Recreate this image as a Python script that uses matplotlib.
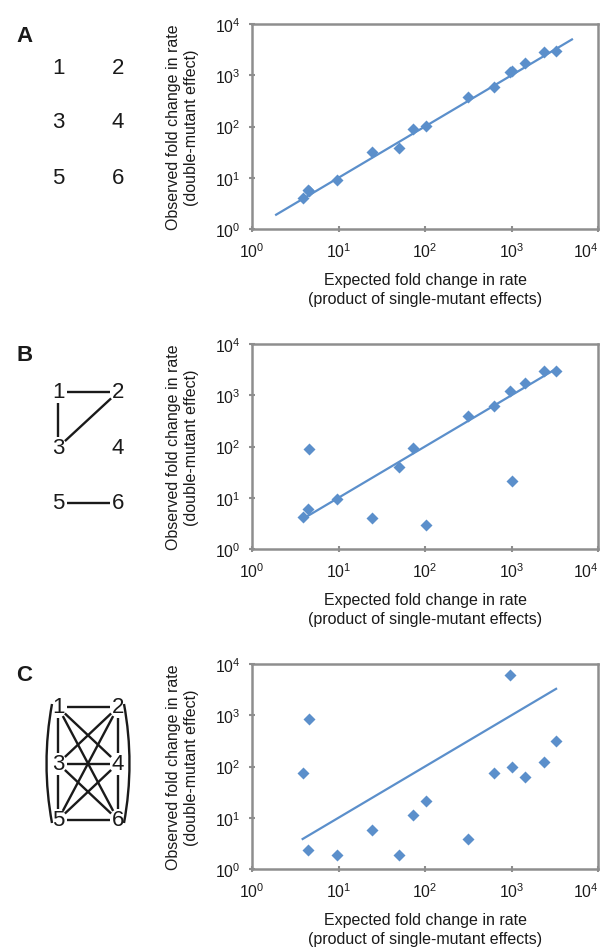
import matplotlib
matplotlib.use("Agg")
import matplotlib.pyplot as plt
from matplotlib.path import Path
from matplotlib.patches import PathPatch
import numpy as np

plt.rcParams['font.family'] = ['Liberation Sans', 'DejaVu Sans']

# data (x = expected, y = observed fold change)
expected = [3.85, 4.4, 4.5, 9.6, 24.4, 50.7, 73, 104, 313, 623, 957, 1000, 1430, 2376, 3277]
observed_A = [4.0, 5.8, 5.5, 9.0, 32, 38, 91, 103, 384, 601, 1160, 1200, 1713, 2850, 2935]
observed_B = [4.3, 6.0, 89, 9.3, 4.0, 39, 94, 3.0, 400, 620, 1200, 21, 1770, 2930, 3000]
observed_C = [76, 2.3, 861, 1.87, 5.75, 1.87, 11.4, 21.4, 3.84, 74, 6000, 97, 63, 120, 321]

# trend lines (y = x), start/end of each
fit_A = [1.9, 5000]
fit_B = [3.85, 3277]
fit_C = [3.85, 3277]

panel_labels = ['A', 'B', 'C']
nodes = ['1', '2', '3', '4', '5', '6']
edges_A = []
edges_B = [(1, 2), (1, 3), (2, 3), (5, 6)]
edges_C = [(1, 2), (1, 3), (1, 4), (1, 6), (2, 3), (2, 4), (2, 5),
           (3, 4), (3, 5), (3, 6), (4, 5), (4, 6), (5, 6)]
arcs_C = [(1, 5), (2, 6)]

xlab = 'Expected fold change in rate\n(product of single-mutant effects)'
ylab = 'Observed fold change in rate\n(double-mutant effect)'

blue = '#5b8fcb'
grey = '#8e8e8e'

W, H = 605, 953
fig = plt.figure(figsize=(W / 100, H / 100), dpi=100)

# overlay in pixel coords for the little node diagrams
ov = fig.add_axes([0, 0, 1, 1])
ov.set_xlim(0, W)
ov.set_ylim(H, 0)
ov.axis('off')

ax_tops = [25, 345, 665]
ax_h = 205
node_tops = [68, 393, 708]
row_gap = [55, 55.5, 56.5]
cols = [58, 118]


def node_xy(n, top, gap):
    i = n - 1
    return cols[i % 2], top + gap * (i // 2)


def draw_edge(p, q, rx=8.5, ry=11):
    (x0, y0), (x1, y1) = p, q
    dx, dy = x1 - x0, y1 - y0
    d = np.hypot(dx, dy)
    ux, uy = dx / d, dy / d
    s = 1 / np.sqrt((ux / rx) ** 2 + (uy / ry) ** 2)
    ov.plot([x0 + ux * s, x1 - ux * s], [y0 + uy * s, y1 - uy * s],
            color='#1a1a1a', lw=1.7, solid_capstyle='butt')


for k, (lab, edges) in enumerate(zip(panel_labels, [edges_A, edges_B, edges_C])):
    ov.text(16, ax_tops[k] + 11, lab, fontsize=16,
            fontweight='bold', ha='left', va='center', color='#1a1a1a')
    for n, t in enumerate(nodes, start=1):
        x, y = node_xy(n, node_tops[k], row_gap[k])
        ov.text(x, y, t, fontsize=16, ha='center', va='center', color='#1a1a1a')
    for a, b in edges:
        draw_edge(node_xy(a, node_tops[k], row_gap[k]), node_xy(b, node_tops[k], row_gap[k]))

# curved brackets for 1-5 and 2-6 in C
for a, b in arcs_C:
    (x0, y0) = node_xy(a, node_tops[2], row_gap[2])
    (x1, y1) = node_xy(b, node_tops[2], row_gap[2])
    side = -1 if a % 2 == 1 else 1
    sx0, sy0 = x0 + side * 6, y0 - 3
    sx1, sy1 = x1 + side * 6, y1 + 3
    cx = sx0 + side * 11
    cy = (sy0 + sy1) / 2
    path = Path([(sx0, sy0), (cx, cy), (sx1, sy1)], [Path.MOVETO, Path.CURVE3, Path.CURVE3])
    ov.add_patch(PathPatch(path, fill=False, color='#1a1a1a', lw=1.7))

for k, (obs, fit) in enumerate(zip([observed_A, observed_B, observed_C], [fit_A, fit_B, fit_C])):
    bottom = 1 - (ax_tops[k] + ax_h) / H
    ax = fig.add_axes([252 / W, bottom, 346 / W, ax_h / H])
    ax.set_xscale('log')
    ax.set_yscale('log')
    ax.set_xlim(1, 1e4)
    ax.set_ylim(1, 1e4)
    ax.plot(fit, fit, color=blue, lw=1.6, zorder=2)
    ax.plot(expected, obs, 'D', color=blue, ms=6.5, mec='none', zorder=3)
    ax.set_xticks([1, 10, 100, 1000, 10000])
    ax.set_yticks([1, 10, 100, 1000, 10000])
    ax.minorticks_off()
    for sp in ax.spines.values():
        sp.set_color(grey)
        sp.set_linewidth(1.8)
    ax.tick_params(direction='inout', length=5, width=1.5, color=grey,
                   labelsize=11.3, labelcolor='#1a1a1a', pad=6)
    ax.set_xlabel(xlab, fontsize=11.5, color='#1a1a1a', labelpad=9, linespacing=1.3)
    ax.set_ylabel(ylab, fontsize=11.5, color='#1a1a1a', labelpad=11, linespacing=1.3)
    fig.canvas.draw()
    ax.get_xticklabels()[-1].set_horizontalalignment('right')

fig.savefig('out.png', dpi=100)
